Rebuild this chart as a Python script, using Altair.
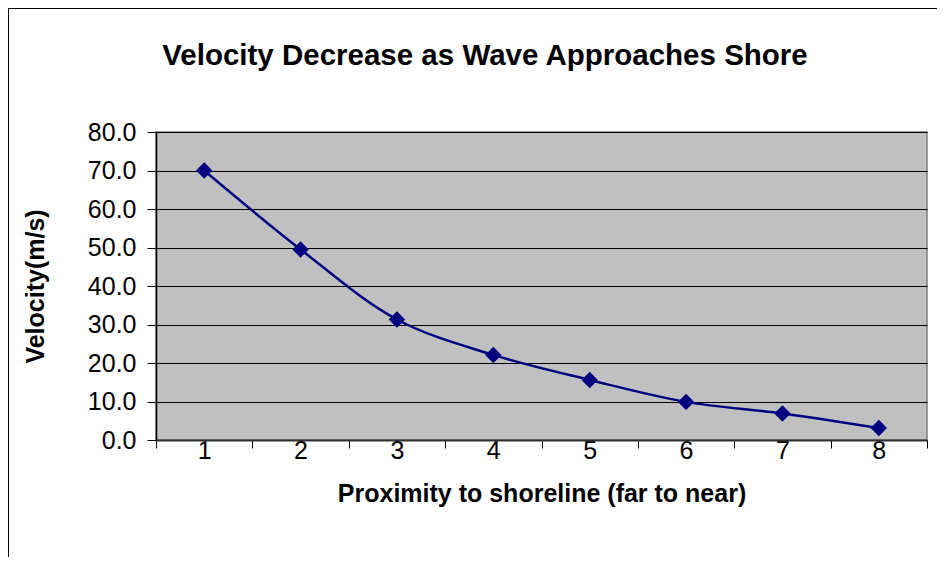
import altair as alt
import pandas as pd

positions = [1, 2, 3, 4, 5, 6, 7, 8]
velocity = [70.0, 49.5, 31.3, 22.1, 15.6, 9.9, 6.9, 3.1]
y_ticks = [0, 10, 20, 30, 40, 50, 60, 70, 80]
chart_title = "Velocity Decrease as Wave Approaches Shore"

df = pd.DataFrame({"position": positions, "velocity": velocity})

FONT = "Liberation Sans"

x_enc = alt.X(
    "position:O",
    bandPosition=0.5,
    scale=alt.Scale(type="band", paddingInner=0, paddingOuter=0),
    axis=alt.Axis(
        title="Proximity to shoreline (far to near)",
        tickBand="extent",
        labelAngle=0,
        grid=False,
        tickSize=8,
        tickColor="black",
        domainColor="#303030",
        domainWidth=2,
        labelPadding=-10,
        titlePadding=18,
        labelFontSize=25,
        titleFontSize=25,
        labelFont=FONT,
        titleFont=FONT,
        titleFontWeight="bold",
        labelColor="black",
        titleColor="black",
    ),
)

y_enc = alt.Y(
    "velocity:Q",
    scale=alt.Scale(domain=[0, 80]),
    axis=alt.Axis(
        title="Velocity(m/s)",
        values=y_ticks,
        format=".1f",
        grid=True,
        gridColor="black",
        gridWidth=1,
        tickSize=9,
        tickColor="black",
        domainColor="black",
        domainWidth=1.5,
        labelPadding=11,
        titlePadding=39,
        labelFontSize=25,
        titleFontSize=25,
        labelFont=FONT,
        titleFont=FONT,
        titleFontWeight="bold",
        labelColor="black",
        titleColor="black",
    ),
)

base = alt.Chart(df)

line = base.mark_line(color="#000080", strokeWidth=2.5, interpolate="catmull-rom").encode(
    x=x_enc, y=y_enc
)
points = base.mark_point(
    shape="diamond", filled=True, color="#000080", size=270, opacity=1
).encode(x=x_enc, y=y_enc)

frame_src = alt.Data(values=[{"t": chart_title}])
top_border = alt.Chart(frame_src).mark_rule(color="black", strokeWidth=1).encode(
    x=alt.value(-147.5), x2=alt.value(800), y=alt.value(-123.5)
)
left_border = alt.Chart(frame_src).mark_rule(color="black", strokeWidth=1).encode(
    x=alt.value(-147.5), y=alt.value(-124), y2=alt.value(450)
)
title_text = alt.Chart(frame_src).mark_text(
    font=FONT, fontSize=29.5, fontWeight="bold", color="black",
    align="center", baseline="middle",
).encode(text="t:N", x=alt.value(329), y=alt.value(-76))

chart = (
    alt.layer(line, points, top_border, left_border, title_text)
    .properties(
        width=771,
        height=308,
        padding={"left": 148, "top": 124, "right": 10, "bottom": 117},
        autosize=alt.AutoSizeParams(type="none"),
    )
    .configure_view(fill="#C0C0C0", stroke="#808080", strokeWidth=1.5)
)

chart.save("out.html", embed_options={"renderer": "svg", "actions": False})
